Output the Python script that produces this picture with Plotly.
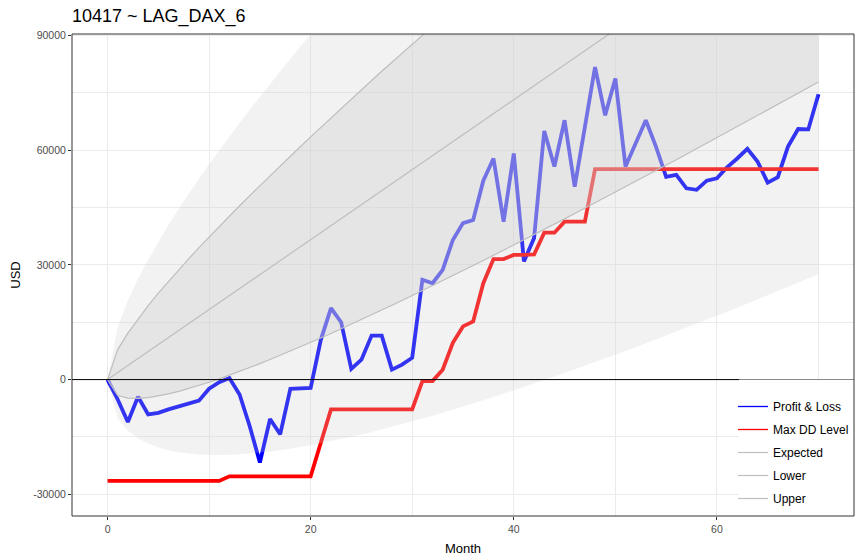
import plotly.graph_objects as go

# ---------------- data ----------------
months = list(range(71))

pnl = [0, -5200, -11100, -4500, -9100, -8700, -7800, -7100, -6400, -5500,
       -2400, -700, 400, -3900, -12200, -21700, -10300, -14300, -2400, -2300,
       -2200, 10400, 18700, 15000, 2800, 5200, 11500, 11500, 2600, 3900,
       5700, 26100, 25200, 28700, 36500, 40900, 41700, 52000, 57800, 41300,
       59100, 30900, 37000, 65000, 55700, 67800, 50400, 66000, 81700, 69100,
       78700, 55700, 61700, 67800, 60900, 53000, 53500, 50000, 49600, 52000,
       52600, 55500, 57800, 60300, 57000, 51500, 52900, 60900, 65500, 65400,
       74600]

max_dd = [-26500] * 12 + [-25300] * 9 + [-16500] + [-7800] * 9 + \
         [-400, -400, 2600, 9600, 13900, 15200, 25200, 31500, 31500, 32600,
          32600, 32700, 38400, 38400, 41300, 41300, 41300] + [55000] * 23

expected = [0, 1829, 3658, 5487, 7316, 9145, 10974, 12803, 14632, 16461,
            18290, 20119, 21948, 23777, 25606, 27435, 29264, 31093, 32922, 34751,
            36580, 38409, 40238, 42067, 43896, 45725, 47554, 49383, 51212, 53041,
            54870, 56699, 58528, 60357, 62186, 64015, 65844, 67673, 69502, 71331,
            73160, 74989, 76818, 78647, 80476, 82305, 84134, 85963, 87792, 89621,
            91450, 93279, 95108, 96937, 98766, 100595, 102424, 104253, 106082, 107911,
            109740, 111569, 113398, 115227, 117056, 118885, 120714, 122543, 124372, 126201,
            128030]

band = [0, 6007, 8495, 10404, 12014, 13432, 14714, 15893, 16990, 18021,
        18996, 19923, 20809, 21659, 22476, 23265, 24028, 24768, 25486, 26184,
        26864, 27528, 28175, 28809, 29428, 30035, 30630, 31213, 31786, 32349,
        32902, 33446, 33981, 34508, 35026, 35538, 36042, 36539, 37030, 37514,
        37992, 38464, 38930, 39391, 39846, 40296, 40742, 41182, 41618, 42049,
        42476, 42899, 43317, 43732, 44142, 44549, 44952, 45352, 45748, 46141,
        46530, 46916, 47299, 47679, 48056, 48430, 48801, 49169, 49535, 49898,
        50258]

x_ticks = [0, 20, 40, 60]
y_ticks = [-30000, 0, 30000, 60000, 90000]

# derived ribbon bounds
lower = [e - b for e, b in zip(expected, band)]
upper = [e + b for e, b in zip(expected, band)]
outer_lower = [e - 2 * b for e, b in zip(expected, band)]
outer_upper = [e + 2 * b for e, b in zip(expected, band)]

FONT = "Liberation Sans, Arial, sans-serif"
GREY_LINE = "#BEBEBE"

fig = go.Figure()

# main series (drawn first so the translucent ribbons tint them)
fig.add_trace(go.Scatter(x=months, y=pnl, mode="lines", name="Profit & Loss",
                         legendgroup="pnl", showlegend=False,
                         line=dict(color="#0000FF", width=3.8)))
fig.add_trace(go.Scatter(x=months, y=max_dd, mode="lines", name="Max DD Level",
                         legendgroup="dd", showlegend=False,
                         line=dict(color="#FF0000", width=3.8)))
# legend proxies (thin legend keys)
fig.add_trace(go.Scatter(x=[None], y=[None], mode="lines", name="Profit & Loss",
                         legendgroup="pnl", line=dict(color="#0000FF", width=1.3)))
fig.add_trace(go.Scatter(x=[None], y=[None], mode="lines", name="Max DD Level",
                         legendgroup="dd", line=dict(color="#FF0000", width=1.3)))

# ribbons
fig.add_trace(go.Scatter(x=months + months[::-1], y=outer_upper + outer_lower[::-1],
                         fill="toself", fillcolor="rgba(204,204,204,0.25)",
                         mode="lines", line=dict(width=0), showlegend=False,
                         hoverinfo="skip"))
fig.add_trace(go.Scatter(x=months + months[::-1], y=upper + lower[::-1],
                         fill="toself", fillcolor="rgba(210,210,210,0.40)",
                         mode="lines", line=dict(width=0), showlegend=False,
                         hoverinfo="skip"))

# grey reference lines
for name, vals in (("Expected", expected), ("Lower", lower), ("Upper", upper)):
    fig.add_trace(go.Scatter(x=months, y=vals, mode="lines", name=name,
                             legendgroup=name, line=dict(color=GREY_LINE, width=1.2)))

fig.update_layout(
    width=862, height=560,
    margin=dict(l=72, r=8, t=34, b=44, autoexpand=False),
    paper_bgcolor="white", plot_bgcolor="white",
    font=dict(family=FONT, color="black"),
    title=dict(text="10417 ~ LAG_DAX_6", x=72 / 862, xref="container", xanchor="left",
               y=1 - 16 / 560, yref="container", yanchor="middle",
               font=dict(size=18, color="black", family=FONT)),
    showlegend=True,
    legend=dict(x=(733 - 72) / 782, xanchor="left", y=(516 - 392) / 482, yanchor="top",
                bgcolor="rgba(0,0,0,0)", borderwidth=0, traceorder="grouped",
                tracegroupgap=4, font=dict(size=12, color="black", family=FONT)),
    xaxis=dict(range=[-3.5, 73.5], tickvals=x_ticks, ticktext=[str(v) for v in x_ticks],
               automargin=False,
               showgrid=True, gridcolor="#EBEBEB", gridwidth=1,
               minor=dict(dtick=10, tick0=0, showgrid=True, gridcolor="#EBEBEB", gridwidth=0.6),
               zeroline=False, showline=False,
               ticks="outside", ticklen=3, tickcolor="#333333", tickwidth=1,
               tickfont=dict(size=10.5, color="#4D4D4D", family=FONT),
               title=dict(text="Month", font=dict(size=13, color="black", family=FONT), standoff=10)),
    yaxis=dict(range=[-35660, 90340], tickvals=y_ticks, ticktext=[str(v) for v in y_ticks],
               automargin=False,
               showgrid=True, gridcolor="#EBEBEB", gridwidth=1,
               minor=dict(dtick=15000, tick0=0, showgrid=True, gridcolor="#EBEBEB", gridwidth=0.6),
               zeroline=False, showline=False,
               ticks="outside", ticklen=3, tickcolor="#333333", tickwidth=1,
               tickfont=dict(size=10.5, color="#4D4D4D", family=FONT),
               title=dict(text="USD", font=dict(size=13, color="black", family=FONT), standoff=9)),
    shapes=[
        # zero line
        dict(type="line", xref="paper", yref="y", x0=0, x1=1, y0=0, y1=0,
             line=dict(color="black", width=1), layer="above"),
        # white legend panel
        dict(type="rect", xref="paper", yref="paper", x0=(739 - 72) / 782, x1=1,
             y0=0, y1=(516 - 379.5) / 482, fillcolor="white", line=dict(width=0),
             layer="above"),
        # panel border
        dict(type="rect", xref="paper", yref="paper", x0=0, x1=1, y0=0, y1=1,
             line=dict(color="#333333", width=1), fillcolor="rgba(0,0,0,0)",
             layer="above"),
    ],
)

fig.write_html("out.html", config={"displayModeBar": False},
               post_script="document.body.style.margin='0px';")
